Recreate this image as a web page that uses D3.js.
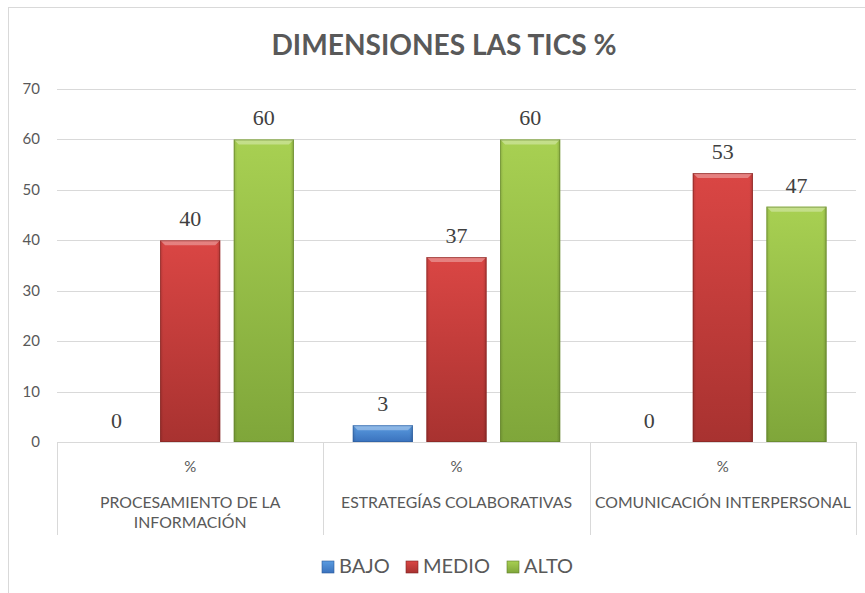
<!DOCTYPE html>
<html>
<head>
<meta charset="utf-8">
<script src="https://cdn.jsdelivr.net/npm/d3@7"></script>
<style>
  html, body { margin: 0; padding: 0; background: #fff; }
  svg { display: block; }
  .sans { font-family: Lato, 'Liberation Sans', sans-serif; }
</style>
</head>
<body>
<svg id="chart" width="865" height="593"></svg>
<script>
/*
 * Chart data
 * ========================================================================== */
const title = 'DIMENSIONES LAS TICS %';
const categories = ['PROCESAMIENTO DE LA INFORMACIÓN', 'ESTRATEGÍAS COLABORATIVAS', 'COMUNICACIÓN INTERPERSONAL'];
const categoryLines = [['PROCESAMIENTO DE LA', 'INFORMACIÓN'], ['ESTRATEGÍAS COLABORATIVAS'], ['COMUNICACIÓN INTERPERSONAL']];
const subLabel = '%';
const seriesNames = ['BAJO', 'MEDIO', 'ALTO'];
const bajo = [0, 3.33, 0];
const medio = [40, 36.67, 53.33];
const alto = [60, 60, 46.67];
const yTicks = [0, 10, 20, 30, 40, 50, 60, 70];

const WIDTH = 865,
      HEIGHT = 593;

// colours: [top, bottom, edge]
const palette = {
  BAJO:  ['#5a9be0', '#3a72bd', '#2d5c9c'],
  MEDIO: ['#da4644', '#a83230', '#7e2422'],
  ALTO:  ['#a8d052', '#7fa63a', '#5f7e2a']
};

const svg = d3.select('#chart');

/*
 * Outer frame
 */
svg.append('rect')
  .attr('x', 8.5).attr('y', 7.5)
  .attr('width', WIDTH + 20).attr('height', HEIGHT + 20)
  .attr('fill', '#fff')
  .attr('stroke', '#d9d9d9');

/*
 * Scales
 */
const x0 = d3.scaleBand()
  .domain(categories)
  .range([57, 856]);

const x1 = d3.scaleBand()
  .domain(seriesNames)
  .range([0, x0.bandwidth()])
  .paddingInner(0.184)
  .paddingOuter(0.40);

const y = d3.scaleLinear()
  .domain([0, 70])
  .range([442, 89]);

/*
 * Gradients
 */
const defs = svg.append('defs');
seriesNames.forEach( s => {
  const g = defs.append('linearGradient')
    .attr('id', 'grad-' + s)
    .attr('x1', 0).attr('y1', 0).attr('x2', 0).attr('y2', 1);
  g.append('stop').attr('offset', '0%').attr('stop-color', palette[s][0]);
  g.append('stop').attr('offset', '100%').attr('stop-color', palette[s][1]);

  const h = defs.append('linearGradient')
    .attr('id', 'side-' + s)
    .attr('x1', 0).attr('y1', 0).attr('x2', 1).attr('y2', 0);
  h.append('stop').attr('offset', '0%').attr('stop-color', '#000').attr('stop-opacity', 0.12);
  h.append('stop').attr('offset', '6%').attr('stop-color', '#000').attr('stop-opacity', 0);
  h.append('stop').attr('offset', '94%').attr('stop-color', '#000').attr('stop-opacity', 0);
  h.append('stop').attr('offset', '100%').attr('stop-color', '#000').attr('stop-opacity', 0.18);
});

/*
 * Title
 */
svg.append('text')
  .attr('class', 'sans')
  .attr('x', 444).attr('y', 55)
  .attr('text-anchor', 'middle')
  .attr('font-size', 29)
  .attr('font-weight', 'bold')
  .attr('fill', '#595959')
  .attr('textLength', 345)
  .attr('lengthAdjust', 'spacingAndGlyphs')
  .text(title);

/*
 * Gridlines and y labels
 */
svg.append('g')
  .selectAll('line')
  .data(yTicks.filter(d => d > 0))
  .enter().append('line')
    .attr('x1', 57).attr('x2', 856)
    .attr('y1', d => Math.round(y(d)) + 0.5)
    .attr('y2', d => Math.round(y(d)) + 0.5)
    .attr('stroke', '#d9d9d9');

svg.append('g')
  .selectAll('text')
  .data(yTicks)
  .enter().append('text')
    .attr('class', 'sans')
    .attr('x', 40)
    .attr('y', d => y(d) + 5)
    .attr('text-anchor', 'end')
    .attr('font-size', 15)
    .attr('fill', '#595959')
    .text(d => d);

/*
 * Category table
 */
const axis = svg.append('g');
axis.append('line')
  .attr('x1', 57).attr('x2', 856)
  .attr('y1', Math.round(y(0)) + 0.5).attr('y2', Math.round(y(0)) + 0.5)
  .attr('stroke', '#d9d9d9');

axis.selectAll('line.sep')
  .data(categories.concat(['end']))
  .enter().append('line')
    .attr('class', 'sep')
    .attr('x1', (d, i) => Math.round(i < categories.length ? x0(d) : x0.range()[1]) + 0.5)
    .attr('x2', (d, i) => Math.round(i < categories.length ? x0(d) : x0.range()[1]) + 0.5)
    .attr('y1', y(0)).attr('y2', 535)
    .attr('stroke', '#d9d9d9');

const catLabels = axis.selectAll('g.cat')
  .data(categories)
  .enter().append('g')
    .attr('class', 'cat')
    .attr('transform', d => 'translate(' + (x0(d) + x0.bandwidth() / 2) + ',0)');

catLabels.append('text')
  .attr('class', 'sans')
  .attr('y', 472)
  .attr('text-anchor', 'middle')
  .attr('font-size', 15)
  .attr('fill', '#595959')
  .text(subLabel);

catLabels.each( function(d, i) {
  d3.select(this).selectAll('text.name')
    .data(categoryLines[i])
    .enter().append('text')
      .attr('class', 'sans name')
      .attr('y', (t, j) => 508 + j * 20)
      .attr('text-anchor', 'middle')
      .attr('font-size', 15.8)
      .attr('fill', '#595959')
      .text(t => t);
});

/*
 * Bars
 */
const rows = categories.map( (c, i) => ({ cat: c, values: [bajo[i], medio[i], alto[i]] }) );

const groups = svg.append('g')
  .selectAll('g.group')
  .data(rows)
  .enter().append('g')
    .attr('class', 'group')
    .attr('transform', d => 'translate(' + x0(d.cat) + ',0)');

const bars = groups.selectAll('g.bar')
  .data(d => d.values.map( (v, j) => ({ series: seriesNames[j], value: v }) ))
  .enter().append('g')
    .attr('class', 'bar');

bars.filter(d => d.value > 0).each( function(d) {
  const g = d3.select(this),
        bx = x1(d.series),
        bw = x1.bandwidth(),
        top = y(d.value),
        bh = y(0) - y(d.value),
        bevel = Math.min(5, bh / 2.5);

  g.append('rect')
    .attr('x', bx).attr('y', top)
    .attr('width', bw).attr('height', bh)
    .attr('fill', 'url(#grad-' + d.series + ')');
  g.append('rect')
    .attr('x', bx).attr('y', top)
    .attr('width', bw).attr('height', bh)
    .attr('fill', 'url(#side-' + d.series + ')');
  // top bevel
  g.append('path')
    .attr('d', 'M' + bx + ',' + top + 'L' + (bx + bw) + ',' + top +
                'L' + (bx + bw - bevel) + ',' + (top + bevel) + 'L' + (bx + bevel) + ',' + (top + bevel) + 'Z')
    .attr('fill', '#fff')
    .attr('fill-opacity', 0.32);
  g.append('rect')
    .attr('x', bx + 0.5).attr('y', top + 0.5)
    .attr('width', bw - 1).attr('height', bh - 1)
    .attr('fill', 'none')
    .attr('stroke', palette[d.series][2])
    .attr('stroke-opacity', 0.6);
});

bars.append('text')
  .attr('x', d => x1(d.series) + x1.bandwidth() / 2)
  .attr('y', d => y(d.value) - 14)
  .attr('text-anchor', 'middle')
  .attr('font-family', "'Liberation Serif', 'Times New Roman', serif")
  .attr('font-size', 22)
  .attr('fill', '#404040')
  .text(d => d3.format('.0f')(d.value));

/*
 * Legend
 */
const legendX = [322, 406, 507];
const legend = svg.append('g')
  .selectAll('g.legend')
  .data(seriesNames)
  .enter().append('g')
    .attr('class', 'legend')
    .attr('transform', (d, i) => 'translate(' + legendX[i] + ',561)');

legend.append('rect')
  .attr('width', 12).attr('height', 12)
  .attr('fill', d => 'url(#grad-' + d + ')')
  .attr('stroke', d => palette[d][2])
  .attr('stroke-width', 0.6);

legend.append('text')
  .attr('class', 'sans')
  .attr('x', 17).attr('y', 12)
  .attr('font-size', 20)
  .attr('fill', '#595959')
  .text(d => d);
</script>
</body>
</html>
